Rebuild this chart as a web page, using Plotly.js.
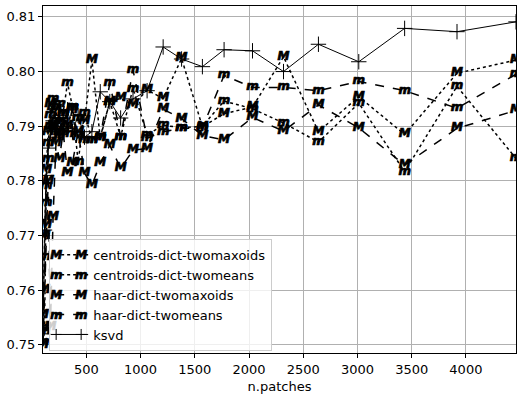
<!DOCTYPE html>
<html>
<head>
<meta charset="utf-8">
<script src="https://cdn.plot.ly/plotly-3.0.1.min.js"></script>
<style>
  body { margin: 0; background: white; }
  #graph { width: 519px; height: 399px; }
</style>
</head>
<body>
<div id="graph"></div>
<script>
// number of patches (shared by all runs)
const nPatches = [100, 114, 130, 148, 169, 193, 220, 251, 286, 326, 372, 424, 483, 551, 628,
                  716, 816, 930, 1060, 1208, 1378, 1570, 1770, 2032, 2318, 2640, 3012, 3435, 3918, 4462];

// scores
const centroidsTwomaxoids = [0.7555, 0.770, 0.782, 0.789, 0.794, 0.790, 0.793, 0.788, 0.792, 0.790,
                             0.793, 0.788, 0.791, 0.8021, 0.7878, 0.7945, 0.7951, 0.7939, 0.7966, 0.7951,
                             0.8024, 0.7899, 0.7923, 0.7935, 0.8027, 0.7890, 0.7954, 0.7885, 0.7997, 0.8021];
const centroidsTwomeans = [0.7505, 0.7525, 0.779, 0.787, 0.792, 0.795, 0.791, 0.789, 0.7925, 0.7979,
                           0.7935, 0.7835, 0.7925, 0.7875, 0.7880, 0.7945, 0.7881, 0.7969, 0.7884, 0.7902,
                           0.7897, 0.7900, 0.7946, 0.7932, 0.7906, 0.7871, 0.7942, 0.7817, 0.7973, 0.7841];
const haarTwomaxoids = [0.750, 0.760, 0.772, 0.780, 0.7533, 0.7734, 0.787, 0.784, 0.789, 0.7814,
                        0.7833, 0.789, 0.7814, 0.7792, 0.7832, 0.7865, 0.7823, 0.7856, 0.7859, 0.7931,
                        0.7914, 0.7883, 0.7875, 0.7916, 0.7891, 0.7939, 0.7897, 0.7829, 0.7896, 0.7929];
const haarTwomeans = [0.753, 0.766, 0.776, 0.784, 0.790, 0.7935, 0.789, 0.794, 0.791, 0.7885,
                      0.7935, 0.7915, 0.7875, 0.7875, 0.7880, 0.7979, 0.7881, 0.8003, 0.7878, 0.7890,
                      0.7896, 0.7897, 0.7993, 0.7971, 0.7971, 0.7965, 0.7982, 0.7965, 0.7933, 0.7995];
const ksvd = [0.752, 0.771, 0.781, 0.786, 0.789, 0.791, 0.788, 0.792, 0.790, 0.793,
              0.789, 0.792, 0.788, 0.789, 0.7963, 0.7945, 0.7915, 0.7950, 0.7965, 0.8045,
              0.8023, 0.8009, 0.8040, 0.8038, 0.8000, 0.8050, 0.8018, 0.8079, 0.8073, 0.8091];

const yTicks = [0.75, 0.76, 0.77, 0.78, 0.79, 0.80, 0.81];
const xTicks = [500, 1000, 1500, 2000, 2500, 3000, 3500, 4000];
// letter used as marker, per series (null = plus marker)
const letters = ['M', 'm', 'M', 'm', null];

const font = 'DejaVu Sans, sans-serif';
const letterStyle = 'font-family:DejaVu Sans,sans-serif;font-size:12px;font-style:italic;font-weight:bold;' +
                    'fill:black;stroke:black;stroke-width:0.7px;';
const svgNS = 'http://www.w3.org/2000/svg';

function textRun(name, y, letter, dash) {
  return {
    x: nPatches,
    y: y,
    name: name,
    type: 'scatter',
    mode: 'lines+text',
    text: y.map(() => letter),
    textposition: 'middle center',
    textfont: { family: font, size: 12, color: 'black', style: 'italic', weight: 'bold' },
    line: { color: 'black', width: 1.5, dash: dash }
  };
}

const traces = [
  textRun('centroids-dict-twomaxoids', centroidsTwomaxoids, letters[0], 'dot'),
  textRun('centroids-dict-twomeans', centroidsTwomeans, letters[1], 'dot'),
  textRun('haar-dict-twomaxoids', haarTwomaxoids, letters[2], 'dash'),
  textRun('haar-dict-twomeans', haarTwomeans, letters[3], 'dash'),
  {
    x: nPatches,
    y: ksvd,
    name: 'ksvd',
    type: 'scatter',
    mode: 'lines+markers',
    line: { color: 'black', width: 1 },
    marker: { symbol: 'cross-thin-open', size: 11, color: 'black', line: { color: 'black', width: 1 } }
  }
];

const layout = {
  width: 519,
  height: 399,
  margin: { l: 43, r: 3, t: 6, b: 46 },
  paper_bgcolor: 'white',
  plot_bgcolor: 'white',
  font: { family: font, size: 13, color: 'black' },
  showlegend: true,
  legend: {
    x: 0.013, y: 0.006, xanchor: 'left', yanchor: 'bottom',
    bgcolor: 'rgba(255,255,255,0.8)', bordercolor: '#cccccc', borderwidth: 1,
    font: { family: font, size: 13 },
    itemwidth: 33,
    tracegroupgap: 0
  },
  xaxis: {
    range: [100, 4462],
    tickvals: xTicks,
    ticks: 'outside', ticklen: 4, tickcolor: 'black',
    showline: true, linecolor: 'black', linewidth: 1, mirror: true,
    showgrid: true, gridcolor: '#b0b0b0', gridwidth: 1,
    zeroline: false,
    title: { text: 'n.patches', font: { family: font, size: 13 }, standoff: 6 }
  },
  yaxis: {
    range: [0.7485, 0.812],
    tickvals: yTicks,
    tickformat: '.2f',
    ticks: 'outside', ticklen: 4, tickcolor: 'black',
    showline: true, linecolor: 'black', linewidth: 1, mirror: true,
    showgrid: true, gridcolor: '#b0b0b0', gridwidth: 1,
    zeroline: false
  }
};

Plotly.newPlot('graph', traces, layout, { displayModeBar: false, staticPlot: true }).then(gd => {
  // heavier letter markers, like matplotlib's stroked mathtext markers
  gd.querySelectorAll('.textpoint text').forEach(t => {
    t.style.stroke = 'black';
    t.style.strokeWidth = '0.7px';
  });
  // legend samples: marker at both ends of the line
  gd.querySelectorAll('.legend .traces').forEach((g, i) => {
    const letter = letters[i];
    if (!letter) {
      // hide plotly's single centred plus, draw one at each end
      g.querySelectorAll('.legendpoints path').forEach(p => { p.style.display = 'none'; });
      [6, 31].forEach(x => {
        const p = document.createElementNS(svgNS, 'path');
        p.setAttribute('d', 'M' + (x - 5.5) + ',0H' + (x + 5.5) + 'M' + x + ',-5.5V5.5');
        p.setAttribute('style', 'stroke:black;stroke-width:1px;fill:none;');
        g.appendChild(p);
      });
      return;
    }
    [6, 31].forEach(x => {
      const t = document.createElementNS(svgNS, 'text');
      t.setAttribute('x', x);
      t.setAttribute('y', 4.5);
      t.setAttribute('text-anchor', 'middle');
      t.setAttribute('style', letterStyle);
      t.textContent = letter;
      g.appendChild(t);
    });
  });
});
</script>
</body>
</html>
